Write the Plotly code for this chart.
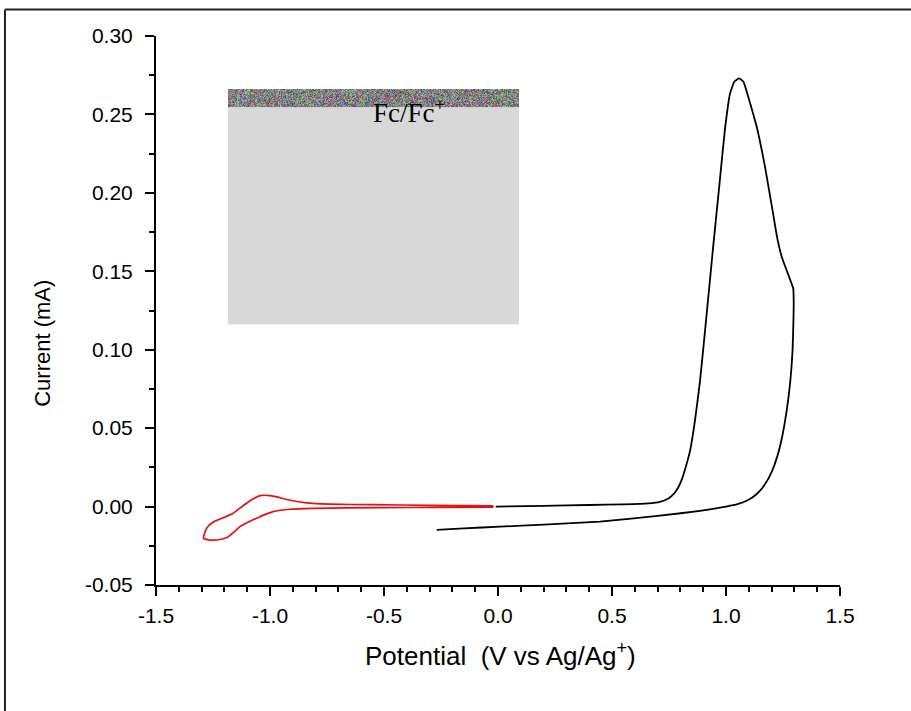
import base64, struct, zlib
import plotly.graph_objects as go

# ---------------- data ----------------
black_x = [-0.01, 0.2, 0.4, 0.55, 0.66, 0.71, 0.745, 0.77, 0.79, 0.808, 0.825, 0.843, 0.864,
           0.886, 0.908, 0.93, 0.944, 0.973, 0.995, 1.018, 1.037, 1.057, 1.076, 1.091, 1.11,
           1.135, 1.171, 1.205, 1.225, 1.245, 1.265, 1.283, 1.295, 1.297, 1.296, 1.292, 1.282,
           1.265, 1.247, 1.225, 1.200, 1.170, 1.135, 1.095, 1.05, 1.0, 0.886, 0.7, 0.447, 0.2,
           0.009, -0.15, -0.269]
black_y = [0.0, 0.0005, 0.0010, 0.0014, 0.0020, 0.0030, 0.0050, 0.0080, 0.0120, 0.0180, 0.0260,
           0.0360, 0.0550, 0.0800, 0.1120, 0.1450, 0.1660, 0.2080, 0.2400, 0.2635, 0.2710,
           0.2730, 0.2710, 0.2645, 0.2550, 0.2420, 0.2167, 0.1880, 0.1710, 0.1590, 0.1510,
           0.1440, 0.1390, 0.1300, 0.1200, 0.1000, 0.0800, 0.0600, 0.0450, 0.0320, 0.0220,
           0.0140, 0.0080, 0.0040, 0.0015, 0.0, -0.0027, -0.0060, -0.0096, -0.0115, -0.0128,
           -0.0139, -0.0149]

red_x = [-0.02, -0.3, -0.55, -0.737, -0.839, -0.927, -0.97, -1.0, -1.03, -1.044, -1.075, -1.103,
         -1.132, -1.161, -1.2, -1.249, -1.278, -1.289, -1.292, -1.27, -1.234, -1.205, -1.183,
         -1.16, -1.132, -1.095, -1.059, -1.02, -0.986, -0.912, -0.81, -0.52, -0.25, -0.02]
red_y = [0.0004, 0.0008, 0.0012, 0.0015, 0.0023, 0.0045, 0.0062, 0.0070, 0.0072, 0.0070, 0.0048,
         0.0021, -0.0010, -0.0042, -0.0068, -0.0098, -0.0138, -0.018, -0.0202, -0.0212, -0.0213,
         -0.0205, -0.0192, -0.0165, -0.0128, -0.0098, -0.0075, -0.0050, -0.0032, -0.0017,
         -0.0011, -0.0007, -0.0005, -0.0003]

x_tickvals = [-1.5, -1.0, -0.5, 0.0, 0.5, 1.0, 1.5]
x_ticktext = ["-1.5", "-1.0", "-0.5", "0.0", "0.5", "1.0", "1.5"]
y_tickvals = [-0.05, 0.0, 0.05, 0.10, 0.15, 0.20, 0.25, 0.30]
y_ticktext = ["-0.05", "0.00", "0.05", "0.10", "0.15", "0.20", "0.25", "0.30"]

inset_label = "Fc/Fc<sup>+</sup>"
x_title = "Potential  (V vs Ag/Ag<sup>+</sup>)"
y_title = "Current (mA)"

# ---------------- noisy strip texture (decorative) ----------------
def noise_png(w, h):
    rows = []
    for j in range(h):
        row = bytearray([0])
        for i in range(w):
            for c in range(3):
                v = (i * 73856093) ^ (j * 19349663) ^ (c * 83492791)
                v = (v * 2654435761) & 0xFFFFFFFF
                v ^= v >> 13
                v = (v * 1274126177) & 0xFFFFFFFF
                v ^= v >> 16
                row.append(55 + v % 150)
        rows.append(bytes(row))
    raw = b"".join(rows)

    def chunk(t, d):
        c = struct.pack(">I", len(d)) + t + d
        return c + struct.pack(">I", zlib.crc32(t + d) & 0xFFFFFFFF)

    png = b"\x89PNG\r\n\x1a\n" + chunk(b"IHDR", struct.pack(">IIBBBBB", w, h, 8, 2, 0, 0, 0))
    png += chunk(b"IDAT", zlib.compress(raw)) + chunk(b"IEND", b"")
    return "data:image/png;base64," + base64.b64encode(png).decode()

FONT = "Arial, 'Liberation Sans', sans-serif"

fig = go.Figure()
fig.add_trace(go.Scatter(x=red_x, y=red_y, mode="lines",
                         line=dict(color="#e8100e", width=1.7, shape="spline", smoothing=0.5),
                         showlegend=False, hoverinfo="skip"))
fig.add_trace(go.Scatter(x=black_x, y=black_y, mode="lines",
                         line=dict(color="#000000", width=1.8, shape="spline", smoothing=0.4),
                         showlegend=False, hoverinfo="skip"))

# inset gray box
fig.add_shape(type="rect", xref="x", yref="y", x0=-1.184, x1=0.092, y0=0.1163, y1=0.2662,
              fillcolor="#d8d8d8", line=dict(width=0), layer="below")
fig.add_layout_image(dict(source=noise_png(291, 18), xref="x", yref="y", x=-1.184, y=0.2662,
                          sizex=1.276, sizey=0.0115, sizing="stretch", layer="above",
                          xanchor="left", yanchor="top"))
fig.add_annotation(x=-0.558, y=0.2522, xref="x", yref="y", text=inset_label, showarrow=False,
                   xanchor="left", yanchor="middle",
                   font=dict(family="'Times New Roman', 'Liberation Serif', serif", size=27, color="#000"))

# titles
fig.add_annotation(x=0.503, y=-0.1257, xref="paper", yref="paper", text=x_title, showarrow=False,
                   xanchor="center", yanchor="middle", font=dict(family=FONT, size=26, color="#000"))
fig.add_annotation(x=-0.167, y=0.4408, xref="paper", yref="paper", text=y_title, showarrow=False,
                   textangle=-90, xanchor="center", yanchor="middle",
                   font=dict(family=FONT, size=22, color="#000"))

# outer frame (top and left only)
fig.add_shape(type="line", xref="paper", yref="paper", x0=-0.2208, x1=1.12, y0=1.0483, y1=1.0483,
              line=dict(color="#222", width=2))
fig.add_shape(type="line", xref="paper", yref="paper", x0=-0.2208, x1=-0.2208, y0=1.0483, y1=-0.25,
              line=dict(color="#222", width=2))

fig.update_xaxes(range=[-1.5, 1.5], tickmode="array", tickvals=x_tickvals, ticktext=x_ticktext,
                 showgrid=False, zeroline=False, showline=True, linecolor="#000", linewidth=2,
                 ticks="outside", ticklen=9, tickwidth=2, tickcolor="#000", ticklabelstandoff=2,
                 tickfont=dict(family=FONT, size=21, color="#000"),
                 minor=dict(tickmode="linear", tick0=-1.5, dtick=0.1, ticks="outside", ticklen=5,
                            tickwidth=2, tickcolor="#000", showgrid=False))
fig.update_yaxes(range=[-0.05, 0.30], tickmode="array", tickvals=y_tickvals, ticktext=y_ticktext,
                 showgrid=False, zeroline=False, showline=True, linecolor="#000", linewidth=2,
                 ticks="outside", ticklen=9, tickwidth=2, tickcolor="#000", ticklabelstandoff=8,
                 tickfont=dict(family=FONT, size=21, color="#000"),
                 minor=dict(tickmode="linear", tick0=-0.05, dtick=0.025, ticks="outside", ticklen=5,
                            tickwidth=2, tickcolor="#000", showgrid=False))

fig.update_layout(width=911, height=711, autosize=False,
                  margin=dict(l=156, r=71, t=36, b=126),
                  paper_bgcolor="white", plot_bgcolor="white", showlegend=False)

fig.write_html("out.html")
